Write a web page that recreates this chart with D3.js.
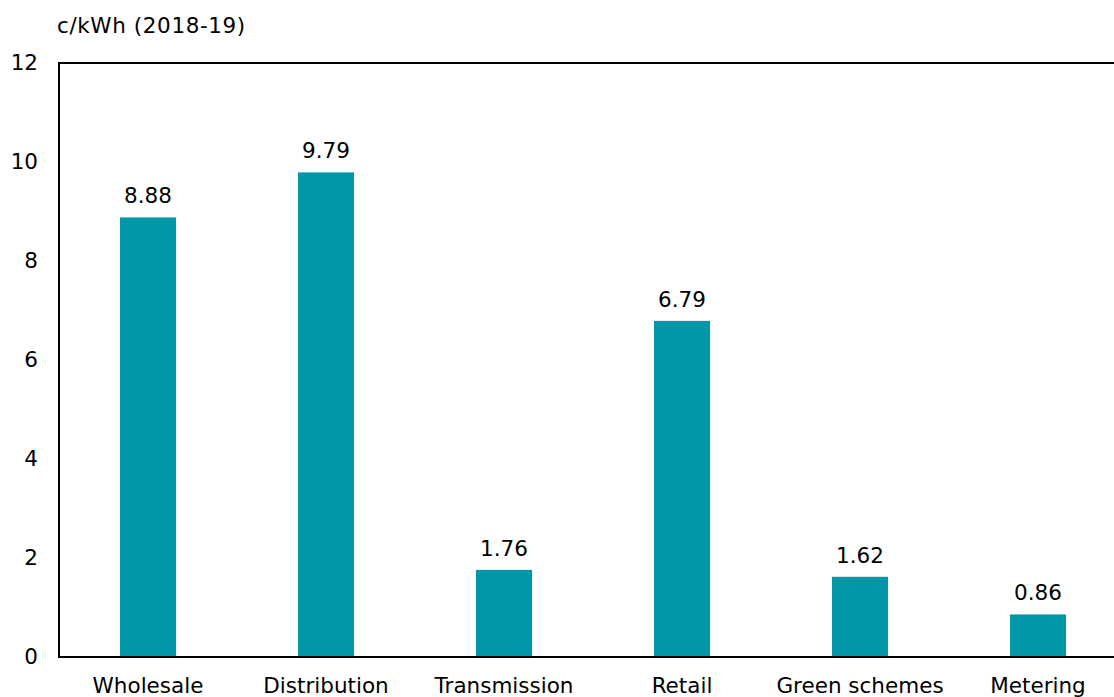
<!DOCTYPE html>
<html>
<head>
<meta charset="utf-8">
<script src="https://cdn.jsdelivr.net/npm/d3@7"></script>
<style>
  html, body { margin: 0; padding: 0; background: #fff; }
  svg { display: block; font-family: "DejaVu Sans", Verdana, sans-serif; }
</style>
</head>
<body>
<svg id="chart" width="1114" height="697"></svg>
<script>
// Electricity price components, c/kWh (2018-19)
const categories = ["Wholesale", "Distribution", "Transmission", "Retail", "Green schemes", "Metering"];
const values = [8.88, 9.79, 1.76, 6.79, 1.62, 0.86];
const yTicks = [0, 2, 4, 6, 8, 10, 12];
const unitLabel = "c/kWh (2018-19)";

(function drawChart() {
  const svg = d3.select("#chart");
  const plotLeft = 59, plotTop = 63, plotBottom = 657;
  const step = 178;
  const plotRight = plotLeft + step * categories.length;
  const fontSize = 21.5;

  const x = d3.scaleBand()
    .domain(categories)
    .range([plotLeft, plotRight])
    .paddingInner(0.685)
    .paddingOuter(0.3425);

  const y = d3.scaleLinear().domain([0, 12]).range([plotBottom, plotTop]);

  const barColor = "#0098a8";
  const font = "DejaVu Sans, Verdana, sans-serif";

  // bars
  svg.append("g").selectAll("rect")
    .data(values)
    .join("rect")
    .attr("x", (d, i) => x(categories[i]))
    .attr("y", d => y(d))
    .attr("width", x.bandwidth())
    .attr("height", d => y(0) - y(d))
    .attr("fill", barColor);

  // value labels
  svg.append("g").selectAll("text")
    .data(values)
    .join("text")
    .attr("x", (d, i) => x(categories[i]) + x.bandwidth() / 2)
    .attr("y", d => y(d) - 14)
    .attr("text-anchor", "middle")
    .attr("font-size", fontSize)
    .attr("fill", "#000")
    .text(d => d.toFixed(2));

  // y axis
  const yAxis = d3.axisLeft(y).tickValues(yTicks).tickSize(0).tickPadding(21);
  const gy = svg.append("g").attr("transform", `translate(${plotLeft},0)`).call(yAxis);
  gy.select(".domain").remove();
  gy.selectAll("text").attr("font-size", fontSize).attr("font-family", font).attr("fill", "#000");

  // x axis
  const xAxis = d3.axisBottom(x).tickSize(0).tickPadding(21);
  const gx = svg.append("g").attr("transform", `translate(0,${plotBottom})`).call(xAxis);
  gx.select(".domain").remove();
  gx.selectAll("text").attr("font-size", fontSize).attr("font-family", font).attr("fill", "#000");

  // frame: left, top, bottom
  svg.append("path")
    .attr("d", `M${plotRight},${plotTop}H${plotLeft}V${plotBottom}H${plotRight}`)
    .attr("fill", "none")
    .attr("stroke", "#000")
    .attr("stroke-width", 2);

  // unit label
  svg.append("text")
    .attr("x", 57)
    .attr("y", 33)
    .attr("font-size", fontSize)
    .attr("letter-spacing", 0.6)
    .attr("fill", "#000")
    .text(unitLabel);
})();
</script>
</body>
</html>
